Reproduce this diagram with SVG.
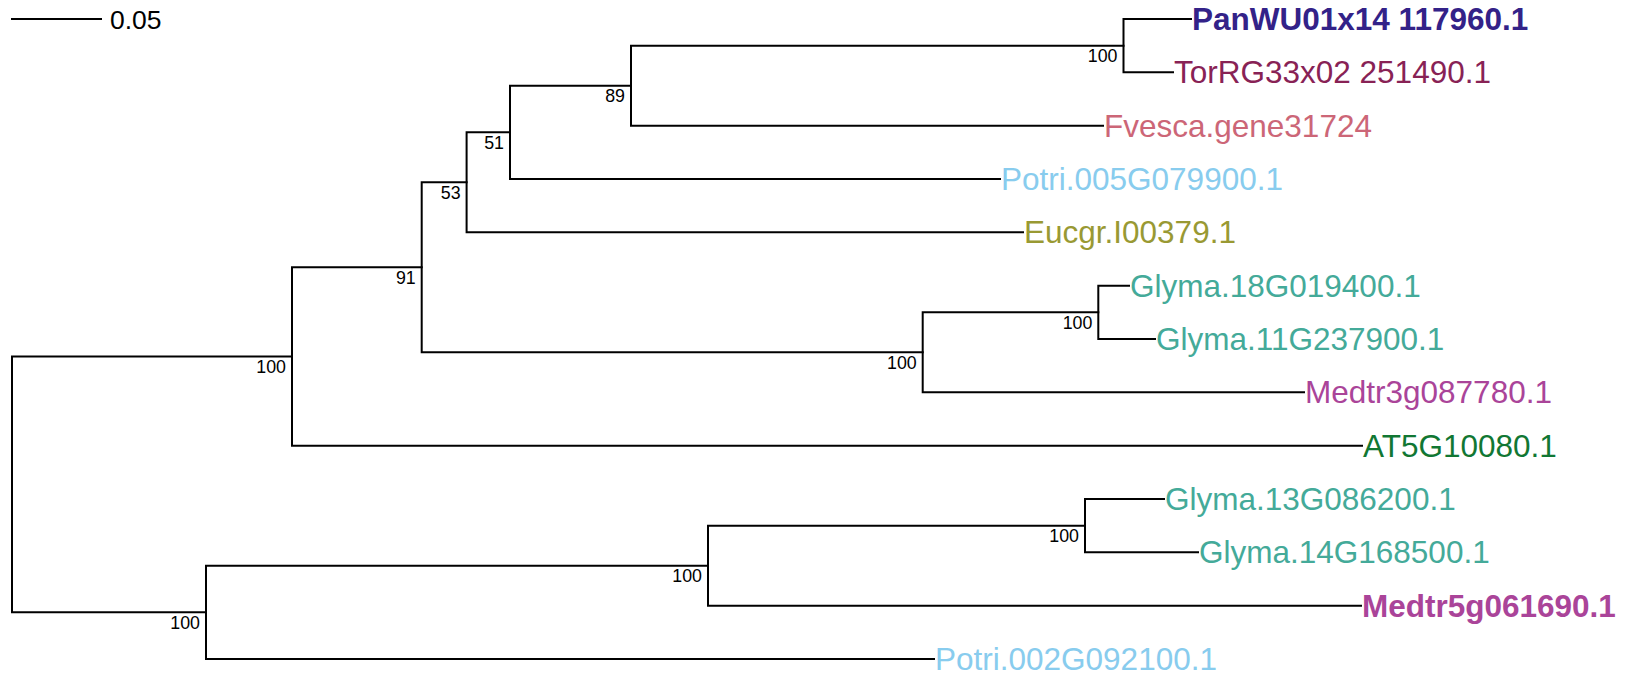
<svg xmlns="http://www.w3.org/2000/svg" width="1625" height="676" viewBox="0 0 1625 676">
<style>
.br{fill:none;stroke:#000;stroke-width:2;stroke-linecap:square}
.leaf{font-family:"Liberation Sans",Arial,sans-serif;font-size:31.5px}
.bs{font-family:"Liberation Sans",Arial,sans-serif;font-size:17.8px;fill:#000;text-anchor:end}
.sc{font-family:"Liberation Sans",Arial,sans-serif;font-size:26.5px;fill:#000}
</style>
<rect width="1625" height="676" fill="#fff"/>
<g id="scale">
<path class="br" d="M12,19 H101"/>
<text class="sc" x="110" y="29">0.05</text>
</g>
<g id="connectors">
<path class="br" d="M12,356.5 V612.3 M12,356.5 H292 M12,612.3 H206"/>
<path class="br" d="M292,267.3 V445.7 M292,267.3 H421.7 M292,445.7 H1362"/>
<path class="br" d="M421.7,182.3 V352.3 M421.7,182.3 H466.6 M421.7,352.3 H922.7"/>
<path class="br" d="M466.6,132.3 V232.3 M466.6,132.3 H510 M466.6,232.3 H1023"/>
<path class="br" d="M510,85.7 V179 M510,85.7 H631 M510,179 H1000"/>
<path class="br" d="M631,45.7 V125.7 M631,45.7 H1123.5 M631,125.7 H1103"/>
<path class="br" d="M1123.5,19 V72.3 M1123.5,19 H1191 M1123.5,72.3 H1173"/>
<path class="br" d="M922.7,312.3 V392.3 M922.7,312.3 H1098.3 M922.7,392.3 H1304"/>
<path class="br" d="M1098.3,285.7 V339 M1098.3,285.7 H1129 M1098.3,339 H1155"/>
<path class="br" d="M206,565.7 V659 M206,565.7 H708 M206,659 H934"/>
<path class="br" d="M708,525.7 V605.7 M708,525.7 H1085 M708,605.7 H1361"/>
<path class="br" d="M1085,499 V552.3 M1085,499 H1164 M1085,552.3 H1198"/>
</g>
<g id="support">
<text class="bs" x="286" y="373">100</text>
<text class="bs" x="415.7" y="283.8">91</text>
<text class="bs" x="460.6" y="198.8">53</text>
<text class="bs" x="504" y="148.8">51</text>
<text class="bs" x="625" y="102.2">89</text>
<text class="bs" x="1117.5" y="62.2">100</text>
<text class="bs" x="916.7" y="368.8">100</text>
<text class="bs" x="1092.3" y="328.8">100</text>
<text class="bs" x="200" y="628.8">100</text>
<text class="bs" x="702" y="582.2">100</text>
<text class="bs" x="1079" y="542.2">100</text>
</g>
<g id="PanWU01x14"><text class="leaf" x="1192" y="30" fill="#332288" font-weight="bold">PanWU01x14 117960.1</text></g>
<g id="TorRG33x02"><text class="leaf" x="1174" y="83.3" fill="#882255">TorRG33x02 251490.1</text></g>
<g id="Fvesca"><text class="leaf" x="1104" y="136.7" fill="#CC6677">Fvesca.gene31724</text></g>
<g id="Potri005"><text class="leaf" x="1001" y="190" fill="#88CCEE">Potri.005G079900.1</text></g>
<g id="Eucgr"><text class="leaf" x="1024" y="243.3" fill="#999933">Eucgr.I00379.1</text></g>
<g id="Glyma18"><text class="leaf" x="1130" y="296.7" fill="#44AA99">Glyma.18G019400.1</text></g>
<g id="Glyma11"><text class="leaf" x="1156" y="350" fill="#44AA99">Glyma.11G237900.1</text></g>
<g id="Medtr3"><text class="leaf" x="1305" y="403.3" fill="#AA4499">Medtr3g087780.1</text></g>
<g id="AT5G"><text class="leaf" x="1363" y="456.7" fill="#117733">AT5G10080.1</text></g>
<g id="Glyma13"><text class="leaf" x="1165" y="510" fill="#44AA99">Glyma.13G086200.1</text></g>
<g id="Glyma14"><text class="leaf" x="1199" y="563.3" fill="#44AA99">Glyma.14G168500.1</text></g>
<g id="Medtr5"><text class="leaf" x="1362" y="616.7" fill="#AA4499" font-weight="bold">Medtr5g061690.1</text></g>
<g id="Potri002"><text class="leaf" x="935" y="670" fill="#88CCEE">Potri.002G092100.1</text></g>
</svg>
